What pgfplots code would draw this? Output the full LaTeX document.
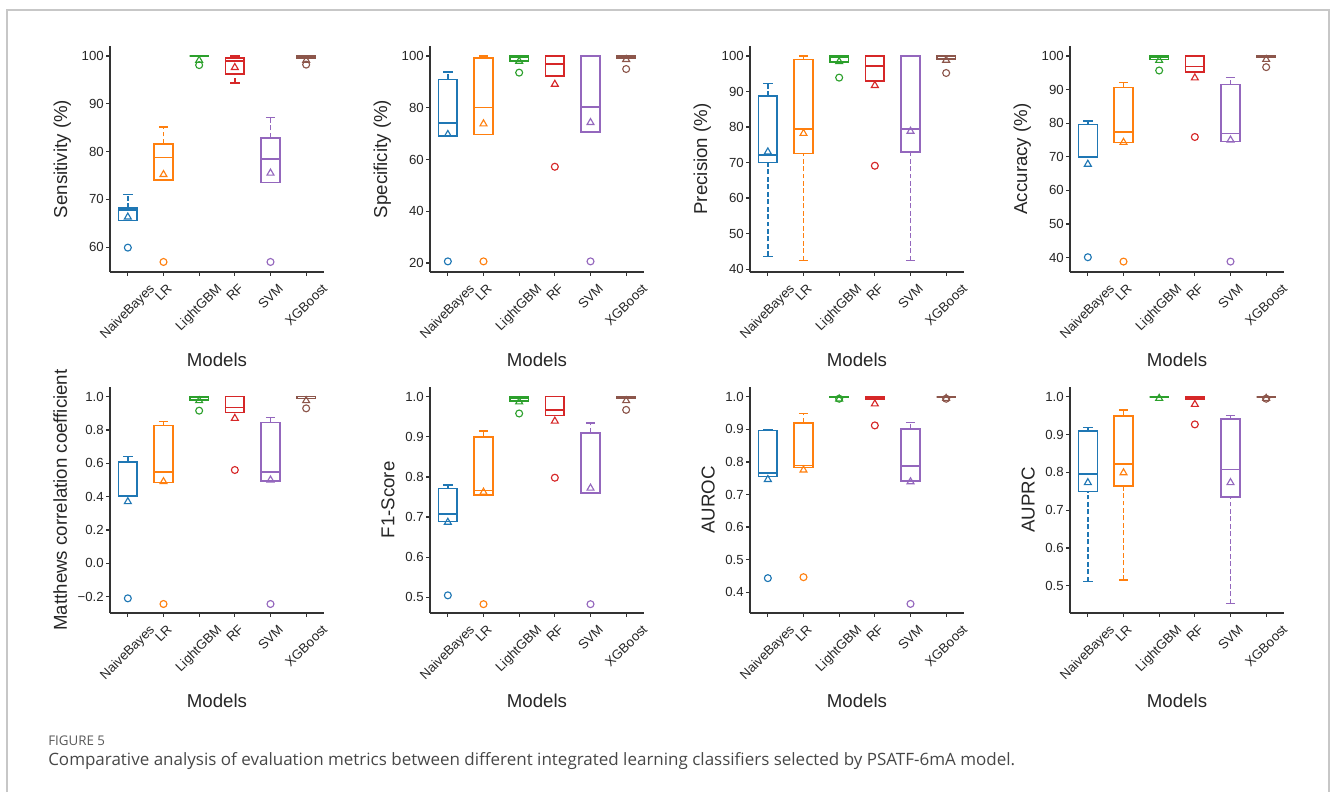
\documentclass[border=0pt]{standalone}
\usepackage{pgfplots}
\pgfplotsset{compat=1.18}
\usepackage{graphicx}
\usepackage{fontspec}
\setmainfont{Liberation Sans}
\newfontfamily\capfont{Open Sans}
\definecolor{c0}{HTML}{1F77B4}
\definecolor{c1}{HTML}{FF7F0E}
\definecolor{c2}{HTML}{2CA02C}
\definecolor{c3}{HTML}{D62728}
\definecolor{c4}{HTML}{9467BD}
\definecolor{c5}{HTML}{8C564B}
\definecolor{spine}{HTML}{333333}
\newcommand{\rl}[1]{\rotatebox{45}{#1}}
% box: pos, colour, lower whisker, q1, median, q3, upper whisker
\newcommand{\bp}[7]{%
  \pgfmathsetmacro\xa{#1-0.265}\pgfmathsetmacro\xb{#1+0.265}%
  \pgfmathsetmacro\ca{#1-0.1325}\pgfmathsetmacro\cb{#1+0.1325}%
  \edef\tmp{%
  \noexpand\addplot[#2, line width=1.2pt, dash pattern=on 3.7pt off 1.9pt] coordinates {(#1,#3) (#1,#4)};
  \noexpand\addplot[#2, line width=1.2pt, dash pattern=on 3.7pt off 1.9pt] coordinates {(#1,#6) (#1,#7)};
  \noexpand\addplot[#2, line width=1.2pt] coordinates {(\ca,#3) (\cb,#3)};
  \noexpand\addplot[#2, line width=1.2pt] coordinates {(\ca,#7) (\cb,#7)};
  \noexpand\addplot[#2, line width=1.2pt] coordinates {(\xa,#4) (\xb,#4) (\xb,#6) (\xa,#6) (\xa,#4)} --cycle;
  \noexpand\addplot[#2, line width=1.2pt] coordinates {(\xa,#5) (\xb,#5)};
  }\tmp}
\newcommand{\mn}[3]{\addplot[#2, only marks, mark=triangle, mark size=3pt, mark options={solid, line width=0.85pt}] coordinates {(#1,#3)};}
\newcommand{\ol}[3]{\addplot[#2, only marks, mark=o, mark size=2.6pt, mark options={solid, line width=0.85pt}] coordinates {(#1,#3)};}
\pgfplotsset{
  panel/.style={
    scale only axis, width=160.5pt, height=169.5pt, anchor=south west,
    axis lines=left, axis line style={-, line width=0.95pt, color=spine},
    xmin=-0.5, xmax=5.5, xtick={0,1,2,3,4,5},
    xticklabels={{\rl{NaiveBayes}},{\rl{LR}},{\rl{LightGBM}},{\rl{RF}},{\rl{SVM}},{\rl{XGBoost}}},
    tick align=outside, major tick length=3pt,
    tick style={line width=0.95pt, color=spine},
    /pgf/number format/assume math mode=true,
    ticklabel style={font=\fontsize{9.9}{11}\selectfont, color=black!85},
    xticklabel style={anchor=north, inner sep=0pt, yshift=-5pt},
    yticklabel style={inner sep=1.5pt},
    label style={font=\fontsize{14}{16}\selectfont, color=black!85},
    xlabel style={yshift=-5pt},
    ylabel style={yshift=3pt},
    xlabel={Models},
    clip=false,
  },
  dec1/.style={yticklabel style={/pgf/number format/.cd, fixed, fixed zerofill, precision=1}},
}
\begin{document}
\begin{tikzpicture}
\useasboundingbox (0,0) rectangle (997.5pt,594pt);
\draw[color=black!22, line width=0.8pt] (5.25pt,0) -- (5.25pt,586.5pt) -- (996.75pt,586.5pt) -- (996.75pt,0);

% ---------- Sensitivity
\begin{axis}[panel, at={(82.5pt,390pt)}, ymin=54.8, ymax=102.1, ytick={60,70,80,90,100}, ylabel={Sensitivity (\%)}]
\bp{0}{c0}{65.6}{65.6}{67.8}{68.2}{71.0} \mn{0}{c0}{66.3} \ol{0}{c0}{59.9}
\bp{1}{c1}{74.0}{74.0}{78.8}{81.6}{85.1} \mn{1}{c1}{75.2} \ol{1}{c1}{56.9}
\bp{2}{c2}{100}{100}{100}{100}{100} \mn{2}{c2}{99.1} \ol{2}{c2}{98.1}
\bp{3}{c3}{94.4}{96.3}{98.9}{99.6}{100} \mn{3}{c3}{97.6}
\bp{4}{c4}{73.5}{73.5}{78.5}{82.9}{87.1} \mn{4}{c4}{75.5} \ol{4}{c4}{56.9}
\bp{5}{c5}{99.6}{99.6}{100}{100}{100} \mn{5}{c5}{99.1} \ol{5}{c5}{98.2}
\end{axis}

% ---------- Specificity
\begin{axis}[panel, at={(322.5pt,390pt)}, ymin=16.5, ymax=103.9, ytick={20,40,60,80,100}, ylabel={Specificity (\%)}]
\bp{0}{c0}{69.2}{69.2}{74.2}{91.0}{93.8} \mn{0}{c0}{69.7} \ol{0}{c0}{20.6}
\bp{1}{c1}{69.7}{69.7}{80.1}{99.2}{100} \mn{1}{c1}{73.8} \ol{1}{c1}{20.6}
\bp{2}{c2}{98.1}{98.1}{99.6}{100}{100} \mn{2}{c2}{98.0} \ol{2}{c2}{93.6}
\bp{3}{c3}{92.2}{92.2}{97.0}{100}{100} \mn{3}{c3}{89.1} \ol{3}{c3}{57.2}
\bp{4}{c4}{70.6}{70.6}{80.4}{100}{100} \mn{4}{c4}{74.3} \ol{4}{c4}{20.6}
\bp{5}{c5}{99.2}{99.2}{100}{100}{100} \mn{5}{c5}{98.7} \ol{5}{c5}{95.0}
\end{axis}

% ---------- Precision
\begin{axis}[panel, at={(562.5pt,390pt)}, ymin=39.2, ymax=102.8, ytick={40,50,60,70,80,90,100}, ylabel={Precision (\%)}]
\bp{0}{c0}{43.6}{70.0}{72.2}{88.7}{92.2} \mn{0}{c0}{73.0}
\bp{1}{c1}{42.4}{72.5}{79.4}{99.0}{100} \mn{1}{c1}{78.2}
\bp{2}{c2}{98.3}{98.3}{99.7}{100}{100} \mn{2}{c2}{98.4} \ol{2}{c2}{93.9}
\bp{3}{c3}{93.0}{93.0}{97.1}{100}{100} \mn{3}{c3}{91.7} \ol{3}{c3}{69.1}
\bp{4}{c4}{42.4}{73.0}{79.4}{100}{100} \mn{4}{c4}{78.8}
\bp{5}{c5}{99.1}{99.1}{100}{100}{100} \mn{5}{c5}{98.8} \ol{5}{c5}{95.2}
\end{axis}

% ---------- Accuracy
\begin{axis}[panel, at={(802.5pt,390pt)}, ymin=35.7, ymax=103.0, ytick={40,50,60,70,80,90,100}, ylabel={Accuracy (\%)}]
\bp{0}{c0}{70.0}{70.0}{70.1}{79.6}{80.7} \mn{0}{c0}{67.8} \ol{0}{c0}{40.1}
\bp{1}{c1}{74.3}{74.3}{77.3}{90.6}{92.1} \mn{1}{c1}{74.3} \ol{1}{c1}{38.8}
\bp{2}{c2}{99.0}{99.0}{99.7}{100}{100} \mn{2}{c2}{98.7} \ol{2}{c2}{95.7}
\bp{3}{c3}{95.2}{95.2}{96.9}{100}{100} \mn{3}{c3}{93.5} \ol{3}{c3}{75.9}
\bp{4}{c4}{74.6}{74.6}{76.9}{91.5}{93.6} \mn{4}{c4}{75.0} \ol{4}{c4}{38.8}
\bp{5}{c5}{99.7}{99.7}{100}{100}{100} \mn{5}{c5}{99.0} \ol{5}{c5}{96.7}
\end{axis}

% ---------- MCC
\begin{axis}[panel, at={(82.5pt,134.25pt)}, ymin=-0.298, ymax=1.058, ytick={-0.2,0,0.2,0.4,0.6,0.8,1.0}, yticklabels={−0.2,0.0,0.2,0.4,0.6,0.8,1.0}, ylabel={Matthews correlation coefficient}]
\bp{0}{c0}{0.400}{0.400}{0.404}{0.608}{0.640} \mn{0}{c0}{0.370} \ol{0}{c0}{-0.210}
\bp{1}{c1}{0.484}{0.484}{0.548}{0.826}{0.850} \mn{1}{c1}{0.490} \ol{1}{c1}{-0.244}
\bp{2}{c2}{0.980}{0.980}{0.996}{1.0}{1.0} \mn{2}{c2}{0.976} \ol{2}{c2}{0.916}
\bp{3}{c3}{0.906}{0.906}{0.934}{1.0}{1.0} \mn{3}{c3}{0.870} \ol{3}{c3}{0.560}
\bp{4}{c4}{0.494}{0.494}{0.548}{0.844}{0.876} \mn{4}{c4}{0.500} \ol{4}{c4}{-0.244}
\bp{5}{c5}{0.990}{0.990}{1.0}{1.0}{1.0} \mn{5}{c5}{0.976} \ol{5}{c5}{0.930}
\end{axis}

% ---------- F1
\begin{axis}[panel, dec1, at={(322.5pt,134.25pt)}, ymin=0.461, ymax=1.024, ytick={0.5,0.6,0.7,0.8,0.9,1.0}, ylabel={F1-Score}]
\bp{0}{c0}{0.689}{0.689}{0.707}{0.771}{0.780} \mn{0}{c0}{0.687} \ol{0}{c0}{0.505}
\bp{1}{c1}{0.755}{0.755}{0.766}{0.900}{0.915} \mn{1}{c1}{0.762} \ol{1}{c1}{0.483}
\bp{2}{c2}{0.989}{0.989}{0.997}{1.0}{1.0} \mn{2}{c2}{0.987} \ol{2}{c2}{0.958}
\bp{3}{c3}{0.953}{0.953}{0.967}{1.0}{1.0} \mn{3}{c3}{0.939} \ol{3}{c3}{0.798}
\bp{4}{c4}{0.759}{0.759}{0.761}{0.910}{0.934} \mn{4}{c4}{0.772} \ol{4}{c4}{0.483}
\bp{5}{c5}{0.996}{0.996}{1.0}{1.0}{1.0} \mn{5}{c5}{0.990} \ol{5}{c5}{0.967}
\end{axis}

% ---------- AUROC
\begin{axis}[panel, dec1, at={(562.5pt,134.25pt)}, ymin=0.336, ymax=1.03, ytick={0.4,0.5,0.6,0.7,0.8,0.9,1.0}, ylabel={AUROC}]
\bp{0}{c0}{0.755}{0.755}{0.765}{0.896}{0.898} \mn{0}{c0}{0.746} \ol{0}{c0}{0.443}
\bp{1}{c1}{0.783}{0.783}{0.789}{0.920}{0.949} \mn{1}{c1}{0.775} \ol{1}{c1}{0.446}
\bp{2}{c2}{0.999}{0.999}{1.0}{1.0}{1.0} \mn{2}{c2}{0.993} \ol{2}{c2}{0.994}
\bp{3}{c3}{0.993}{0.993}{1.0}{1.0}{1.0} \mn{3}{c3}{0.978} \ol{3}{c3}{0.912}
\bp{4}{c4}{0.742}{0.742}{0.787}{0.901}{0.921} \mn{4}{c4}{0.739} \ol{4}{c4}{0.364}
\bp{5}{c5}{1.0}{1.0}{1.0}{1.0}{1.0} \mn{5}{c5}{0.995} \ol{5}{c5}{0.994}
\end{axis}

% ---------- AUPRC
\begin{axis}[panel, dec1, at={(802.5pt,134.25pt)}, ymin=0.428, ymax=1.026, ytick={0.5,0.6,0.7,0.8,0.9,1.0}, ylabel={AUPRC}]
\bp{0}{c0}{0.511}{0.749}{0.795}{0.910}{0.919} \mn{0}{c0}{0.773}
\bp{1}{c1}{0.515}{0.764}{0.822}{0.949}{0.965} \mn{1}{c1}{0.799}
\bp{2}{c2}{1.0}{1.0}{1.0}{1.0}{1.0} \mn{2}{c2}{0.996}
\bp{3}{c3}{0.994}{0.994}{1.0}{1.0}{1.0} \mn{3}{c3}{0.980} \ol{3}{c3}{0.927}
\bp{4}{c4}{0.453}{0.735}{0.808}{0.941}{0.951} \mn{4}{c4}{0.773}
\bp{5}{c5}{1.0}{1.0}{1.0}{1.0}{1.0} \mn{5}{c5}{0.996} \ol{5}{c5}{0.995}
\end{axis}

\node[anchor=base west, inner sep=0pt, font=\capfont\fontsize{10}{12}\selectfont, color=black!65] at (36pt,35pt) {FIGURE 5};
\node[anchor=base west, inner sep=0pt, font=\capfont\fontsize{12.75}{15}\selectfont, color=black!72] at (36pt,20pt) {Comparative analysis of evaluation metrics between different integrated learning classifiers selected by PSATF-6mA model.};
\end{tikzpicture}
\end{document}
